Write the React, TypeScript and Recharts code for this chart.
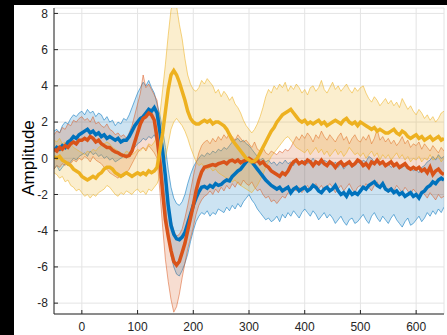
import { Area, CartesianGrid, ComposedChart, Line, XAxis, YAxis } from "recharts";

// sample times (ms), one every 5 units from -50 to 650
const times = Array.from({ length: 141 }, (_, i) => -50 + i * 5);

const xTicks = [0, 100, 200, 300, 400, 500, 600];
const yTicks = [-8, -6, -4, -2, 0, 2, 4, 6, 8];

// mean curves
const blueMean = [
  0.4, 0.6, 0.5, 0.7, 0.6, 0.9, 1.0, 1.2, 1.1, 1.3,
  1.4, 1.5, 1.6, 1.4, 1.5, 1.3, 1.4, 1.2, 1.3, 1.1,
  1.2, 1.1, 1.0, 1.1, 0.9, 1.0, 1.0, 1.2, 1.5, 1.8,
  2.0, 2.2, 2.3, 2.5, 2.7, 2.6, 2.8, 2.5, 1.5, 0.4,
  -1.0, -2.6, -3.7, -4.2, -4.45, -4.5, -4.35, -4.1, -3.6, -3.1,
  -2.6, -2.2, -1.85, -1.6, -1.55, -1.65, -1.5, -1.6, -1.4, -1.5,
  -1.45, -1.3, -1.2, -1.25, -1.0, -0.85, -0.7, -0.6, -0.4, -0.2,
  -0.05, -0.2, -0.4, -0.6, -0.8, -1.0, -1.2, -1.35, -1.5, -1.6,
  -1.7, -1.6, -1.8, -1.7, -1.6, -1.9, -1.7, -1.6, -1.8, -1.7,
  -1.6, -1.8, -1.7, -1.5, -1.6, -1.8, -1.9, -1.7, -1.6, -1.8,
  -1.7, -1.5, -1.8, -2.0, -1.9, -2.1, -1.8, -2.0, -1.9, -2.0,
  -1.8, -1.6, -1.7, -1.5, -1.4, -1.3, -1.5, -1.6, -1.4, -1.7,
  -1.8, -1.7, -1.9, -1.8, -2.0, -1.9, -2.1, -2.0, -1.9, -2.1,
  -2.0, -2.2, -1.9, -1.8, -1.6, -1.5, -1.3, -1.4, -1.2, -1.1,
  -1.2,
];

const orangeMean = [
  0.5, 0.4, 0.6, 0.5, 0.7, 0.6, 0.8, 0.9, 0.8, 1.0,
  1.0, 1.1, 1.0, 1.2, 1.1, 0.9, 1.0, 0.8, 0.7, 0.6,
  0.6, 0.45, 0.35, 0.3, 0.2, 0.15, 0.1, 0.15, 0.4, 0.9,
  1.4, 1.9, 2.2, 2.3, 2.5, 2.4, 2.1, 1.1, -0.2, -1.9,
  -3.4, -4.3, -5.1, -5.7, -5.9, -5.7, -5.2, -4.7, -4.0, -3.3,
  -2.6, -1.8, -1.2, -0.75, -0.5, -0.45, -0.4, -0.35, -0.4, -0.3,
  -0.25, -0.2, -0.3, -0.15, -0.1, -0.2, -0.1, -0.25, -0.15, -0.1,
  0.0, -0.1, -0.2, -0.1, -0.3, -0.2, -0.4, -0.5, -0.7, -0.8,
  -0.9, -1.0, -0.8, -0.9, -0.7, -0.4, -0.2, -0.1, -0.3, -0.2,
  -0.3, -0.1, -0.2, -0.4, -0.2, -0.3, -0.1, -0.3, -0.4, -0.2,
  -0.3, -0.5, -0.3, -0.2, -0.4, -0.3, -0.2, -0.4, -0.3, -0.1,
  -0.2, -0.4, -0.3, -0.5, -0.2, -0.3, -0.1, -0.3, -0.2, -0.4,
  -0.3, -0.2, -0.4, -0.3, -0.5, -0.4, -0.3, -0.5, -0.6, -0.5,
  -0.6, -0.5, -0.7, -0.6, -0.8, -0.5, -0.9, -0.7, -0.6, -0.8,
  -0.9,
];

const yellowMean = [
  0.1, 0.0, 0.1, -0.1, -0.2, -0.3, -0.4, -0.6, -0.7, -0.8,
  -1.0, -1.1, -1.2, -1.1, -1.0, -1.1, -0.9, -0.8, -0.6, -0.5,
  -0.5, -0.6, -0.8, -0.9, -1.0, -0.9, -0.8, -0.9, -1.0, -0.9,
  -0.8, -0.9, -0.8, -0.9, -0.7, -0.8, -0.7, -0.5, 0.4, 1.4,
  2.6, 3.8, 4.6, 4.85, 4.6, 4.2, 3.7, 3.2, 2.6, 2.2,
  2.0, 1.9, 1.9, 2.0, 2.1, 2.0, 2.1, 1.9, 2.0, 2.0,
  1.9, 1.8, 1.6, 1.3, 1.0, 0.8, 0.6, 0.4, 0.2, 0.0,
  -0.1, -0.2, -0.15, 0.0, 0.3, 0.6, 0.9, 1.2, 1.5, 1.7,
  2.0, 2.2, 2.4, 2.5, 2.6, 2.7, 2.5, 2.3, 2.1, 2.0,
  2.1, 1.9, 2.0, 1.9, 2.0, 2.1, 1.9, 2.0, 1.8, 1.9,
  2.0, 2.1, 2.0, 1.9, 2.1, 2.2, 2.0, 1.9, 2.0, 1.8,
  2.0, 1.9, 1.8, 1.7, 1.6, 1.7, 1.5, 1.6, 1.5, 1.4,
  1.4, 1.5, 1.6, 1.4, 1.3, 1.5, 1.4, 1.2, 1.1, 1.2,
  1.3, 1.1, 1.2, 1.0, 1.1, 1.2, 1.0, 1.1, 1.2, 1.0,
  1.1,
];

// shaded band edges
const blueUpper = [
  1.5, 1.6, 1.4, 1.8, 2.0, 1.9, 2.2, 2.4, 2.3, 2.5,
  2.6, 2.4, 2.7, 2.5, 2.6, 2.3, 2.5, 2.4, 2.1, 2.3,
  2.0, 2.1, 1.8, 2.0, 1.9, 2.2, 2.1, 2.4, 2.8, 3.2,
  3.6, 3.9, 4.2, 4.0, 4.3, 3.9, 3.6, 3.0, 2.4, 1.6,
  0.6, -0.6, -1.6, -2.2, -2.5, -2.6, -2.4, -2.0, -1.4, -0.9,
  -0.5, -0.2, 0.0, 0.2, 0.1, 0.3, 0.2, 0.4, 0.3, 0.5,
  0.4, 0.6, 0.5, 0.7, 0.9, 1.0, 1.1, 0.9, 1.0, 0.8,
  0.7, 0.5, 0.3, 0.1, -0.1, 0.0, -0.2, -0.1, -0.3, -0.2,
  -0.4, -0.2, -0.3, -0.1, -0.3, -0.2, -0.4, -0.1, -0.2, -0.3,
  -0.1, -0.3, -0.2, 0.0, -0.2, -0.4, -0.3, -0.1, -0.2, -0.3,
  -0.4, -0.2, -0.5, -0.3, -0.6, -0.4, -0.3, -0.5, -0.4, -0.2,
  -0.3, -0.1, -0.2, 0.1, 0.0, -0.2, -0.1, -0.3, -0.2, -0.4,
  -0.3, -0.5, -0.4, -0.3, -0.6, -0.5, -0.4, -0.6, -0.5, -0.7,
  -0.6, -0.8, -0.5, -0.4, -0.2, -0.1, 0.1, -0.1, 0.2, 0.0,
  0.1,
];

const blueLower = [
  -0.6, -0.4, -0.7, -0.5, -0.3, -0.4, -0.2, 0.0, -0.1, 0.1,
  0.2, 0.3, 0.1, 0.4, 0.2, 0.3, 0.1, 0.2, 0.0, 0.1,
  -0.1, 0.0, -0.2, -0.1, 0.0, 0.1, 0.0, 0.3, 0.5, 0.6,
  0.8, 0.9, 1.1, 1.0, 1.2, 1.1, 1.3, 0.9, 0.2, -1.0,
  -2.6, -4.2, -5.4, -6.0, -6.4, -6.5, -6.2, -5.8, -5.3, -4.6,
  -4.0, -3.5, -3.2, -3.0, -3.1, -2.9, -3.2, -3.0, -3.1, -2.8,
  -2.9, -3.0, -2.7, -2.9, -2.6, -2.8, -2.5, -2.7, -2.4, -2.2,
  -2.0, -2.3, -2.5, -2.8, -3.0, -3.2, -3.4, -3.3, -3.5, -3.4,
  -3.2, -3.5, -3.1, -3.3, -3.0, -3.2, -2.9, -3.1, -3.3, -3.0,
  -2.8, -3.0, -3.2, -2.9, -3.1, -3.4, -3.2, -3.0, -3.3, -3.1,
  -3.3, -3.6, -3.4, -3.2, -3.5, -3.7, -3.4, -3.3, -3.6, -3.5,
  -3.3, -3.1, -3.4, -3.6, -3.2, -3.0, -3.3, -3.5, -3.2, -3.4,
  -3.6, -3.3, -3.1, -3.4, -3.6, -3.8, -3.5, -3.3, -3.7, -3.6,
  -3.4, -3.2, -3.5, -3.3, -3.0, -3.2, -2.9, -3.1, -2.8, -3.0,
  -2.7,
];

const orangeUpper = [
  1.3, 1.5, 1.4, 1.7, 1.6, 1.9, 1.8, 2.1, 2.0, 2.2,
  2.3, 2.1, 2.2, 2.0, 2.3, 1.9, 2.0, 1.8, 1.7, 1.9,
  1.6, 1.5, 1.3, 1.4, 1.2, 1.3, 1.1, 1.4, 1.8, 2.4,
  3.0, 3.6, 4.6, 3.9, 4.1, 3.8, 3.5, 3.2, 2.0, 0.8,
  -1.2, -2.6, -3.4, -4.0, -4.3, -4.2, -3.9, -3.3, -2.6, -1.8,
  -1.0, -0.3, 0.3, 0.7, 0.9, 1.0, 0.8, 1.1, 0.9, 1.2,
  1.0, 1.3, 1.1, 1.4, 1.2, 1.0, 1.3, 1.1, 0.9, 1.0,
  0.8, 0.6, 0.9, 0.5, 0.4, 0.6, 0.3, 0.2, 0.4, 0.3,
  0.2, 0.4, 0.3, 0.5, 0.4, 0.6, 0.9, 1.2, 1.0, 1.3,
  1.1, 1.4, 1.2, 0.9, 1.3, 1.1, 1.5, 1.2, 1.0, 1.3,
  1.1, 0.9, 1.2, 1.4, 1.0, 1.2, 0.8, 1.1, 1.3, 1.0,
  0.9, 1.2, 1.0, 1.3, 0.8, 1.1, 1.6, 1.0, 1.2, 0.9,
  1.1, 0.8, 1.0, 0.7, 0.9, 1.2, 0.8, 1.0, 0.6, 0.8,
  0.7, 0.9, 0.5, 0.8, 0.6, 0.4, 0.7, 0.5, 0.3, 0.6,
  0.4,
];

const orangeLower = [
  -0.6, -0.4, -0.5, -0.3, -0.4, -0.2, -0.3, -0.1, -0.2, 0.0,
  -0.1, 0.1, 0.0, -0.2, 0.1, -0.1, -0.2, -0.3, -0.5, -0.6,
  -0.8, -0.9, -1.0, -1.1, -0.9, -1.0, -0.8, -0.6, -0.3, 0.0,
  0.3, 0.5, 0.6, 0.4, 0.7, 0.5, 0.3, 0.0, -1.8, -3.8,
  -5.6, -6.8, -7.8, -8.5, -8.2, -7.5, -6.6, -5.8, -5.0, -4.4,
  -3.8, -3.1, -2.6, -2.3, -2.1, -2.0, -1.8, -2.0, -1.7, -1.9,
  -1.6, -1.8, -1.5, -1.7, -1.4, -1.6, -1.3, -1.5, -1.2, -1.4,
  -1.5, -1.3, -1.6, -1.8, -1.7, -2.0, -2.2, -2.1, -2.4, -2.3,
  -2.5, -2.3, -2.1, -2.2, -1.9, -2.0, -1.7, -1.8, -1.6, -1.9,
  -1.7, -1.5, -1.8, -1.6, -1.4, -1.7, -1.5, -1.8, -1.6, -1.4,
  -1.6, -1.9, -1.7, -1.5, -1.8, -1.6, -1.4, -1.7, -1.9, -1.6,
  -1.5, -1.7, -1.4, -1.6, -1.8, -1.5, -1.3, -1.6, -1.4, -1.7,
  -1.9, -1.6, -1.8, -1.5, -1.7, -1.9, -1.6, -1.8, -2.0, -1.7,
  -1.9, -2.1, -1.8, -2.0, -2.2, -1.9, -2.1, -2.3, -2.0, -2.2,
  -2.1,
];

const yellowUpper = [
  1.0, 0.9, 1.1, 0.8, 0.9, 0.7, 0.8, 0.6, 0.5, 0.4,
  0.3, 0.2, 0.4, 0.3, 0.5, 0.4, 0.6, 0.7, 0.8, 0.9,
  0.8, 0.6, 0.5, 0.4, 0.3, 0.2, 0.4, 0.3, 0.2, 0.3,
  0.5, 0.4, 0.6, 0.5, 0.8, 0.7, 0.9, 1.2, 2.4, 3.8,
  5.2, 6.8, 8.2, 8.6, 8.4, 7.4, 6.6, 5.5, 4.6, 4.1,
  3.8, 3.7, 3.9, 4.3, 4.1, 4.4, 4.2, 4.0, 3.6, 3.8,
  3.4, 3.7, 3.5, 3.2, 3.4, 3.0, 2.8, 2.5, 2.1, 1.8,
  1.6, 1.4, 1.6, 1.9, 2.3, 2.8, 3.4, 3.8, 3.6, 4.0,
  3.8, 4.1, 3.9, 4.2, 3.7, 4.0, 3.8, 4.1, 3.9, 3.6,
  3.8, 3.5, 3.9, 4.0, 3.7, 3.9, 4.3, 3.8, 3.6, 3.9,
  4.2, 3.8, 4.0, 3.7, 3.9, 4.1, 3.8, 3.6, 3.9, 3.7,
  3.9, 4.0, 3.6, 3.3, 3.1, 3.4, 3.2, 2.9, 3.1, 3.3,
  3.0, 3.2, 2.9, 3.1, 2.8, 3.3, 3.0, 2.7, 2.9, 2.6,
  2.4, 2.7, 2.5, 2.2, 2.4, 2.1, 2.3, 2.0, 2.2, 2.5,
  2.6,
];

const yellowLower = [
  -0.8, -0.9, -1.1, -1.0, -1.3, -1.2, -1.5, -1.6, -1.8, -1.7,
  -1.9, -2.1, -2.0, -2.2, -2.0, -2.1, -1.9, -1.8, -1.7, -1.5,
  -1.6, -1.8, -2.0, -2.1, -1.9, -2.0, -1.8, -1.9, -2.0, -1.8,
  -1.7, -1.9, -1.8, -2.0, -1.7, -1.8, -1.6, -1.4, -1.0, -0.5,
  0.0, 0.8, 1.6, 2.0, 2.2, 2.0, 1.8, 1.5, 1.1, 0.6,
  0.2, -0.2, -0.4, -0.3, -0.5, -0.6, -0.5, -0.7, -0.6, -0.8,
  -0.9, -1.0, -1.1, -1.2, -1.3, -1.2, -1.4, -1.5, -1.6, -1.7,
  -1.8, -1.9, -1.7, -1.5, -1.2, -0.9, -0.5, -0.2, 0.1, 0.3,
  0.5, 0.7, 0.9, 1.1, 1.2, 1.0, 0.8, 0.6, 0.5, 0.4,
  0.3, 0.5, 0.2, 0.4, 0.6, 0.3, 0.5, 0.2, 0.4, 0.1,
  0.3, 0.5, 0.2, 0.4, 0.1, 0.3, 0.6, 0.4, 0.2, 0.3,
  0.1, 0.3, 0.0, 0.2, 0.4, 0.1, 0.3, -0.1, 0.2, 0.0,
  0.2, -0.1, 0.1, 0.3, 0.0, 0.2, -0.1, 0.1, -0.2, 0.0,
  -0.1, 0.1, -0.2, 0.0, -0.1, 0.2, -0.1, 0.0, 0.1, -0.2,
  0.0,
];

const data = times.map((t, i) => ({
  t,
  blue: blueMean[i],
  orange: orangeMean[i],
  yellow: yellowMean[i],
  blueBand: [blueLower[i], blueUpper[i]],
  orangeBand: [orangeLower[i], orangeUpper[i]],
  yellowBand: [yellowLower[i], yellowUpper[i]],
}));

const BLUE = "#0072BD";
const ORANGE = "#D95319";
const YELLOW = "#EDB120";
const AXIS = "#262626";
const FONT = "'Liberation Sans', Arial, sans-serif";

const tickStyle = { fill: AXIS, fontSize: 12, fontFamily: FONT };

const AmplitudeLabel = () => (
  <text
    x={14}
    y={153}
    transform="rotate(-90 14 153)"
    textAnchor="middle"
    dominantBaseline="central"
    fill="#000"
    fontSize={17}
    fontFamily={FONT}
  >
    Amplitude
  </text>
);

export default function App() {
  return (
    <div style={{ position: "absolute", left: 0, top: 0, width: 447, height: 335, background: "#000" }}>
      <div style={{ position: "absolute", left: 14, top: 5, width: 433, height: 330, background: "#fff" }}>
        <ComposedChart width={433} height={330} data={data} margin={{ top: 3, right: 3, bottom: 0, left: 0 }}>
          <CartesianGrid stroke="#e4e4e4" />
          <XAxis
            dataKey="t"
            type="number"
            domain={[-50, 650]}
            ticks={xTicks}
            allowDataOverflow
            height={21}
            tick={tickStyle}
            stroke={AXIS}
            tickSize={-4}
            tickMargin={12}
          />
          <XAxis xAxisId="top" orientation="top" type="number" domain={[-50, 650]} ticks={xTicks} height={0} tick={false} stroke={AXIS} />
          <YAxis
            type="number"
            domain={[-8.6, 8.3]}
            ticks={yTicks}
            allowDataOverflow
            width={40}
            tick={tickStyle}
            stroke={AXIS}
            tickSize={-4}
            tickMargin={10}
            label={{ content: () => <AmplitudeLabel /> }}
          />
          <YAxis yAxisId="right" orientation="right" type="number" domain={[-8.6, 8.3]} ticks={yTicks} width={0} tick={false} stroke={AXIS} />
          <Area dataKey="blueBand" type="linear" fill={BLUE} fillOpacity={0.2} stroke={BLUE} strokeOpacity={0.55} strokeWidth={1} isAnimationActive={false} />
          <Line dataKey="blue" type="linear" stroke={BLUE} strokeWidth={3.5} dot={false} isAnimationActive={false} />
          <Area dataKey="orangeBand" type="linear" fill={ORANGE} fillOpacity={0.2} stroke={ORANGE} strokeOpacity={0.5} strokeWidth={1} isAnimationActive={false} />
          <Line dataKey="orange" type="linear" stroke={ORANGE} strokeWidth={3.5} dot={false} isAnimationActive={false} />
          <Area dataKey="yellowBand" type="linear" fill={YELLOW} fillOpacity={0.22} stroke={YELLOW} strokeOpacity={0.55} strokeWidth={1} isAnimationActive={false} />
          <Line dataKey="yellow" type="linear" stroke={YELLOW} strokeWidth={3.5} dot={false} isAnimationActive={false} />
        </ComposedChart>
      </div>
    </div>
  );
}
